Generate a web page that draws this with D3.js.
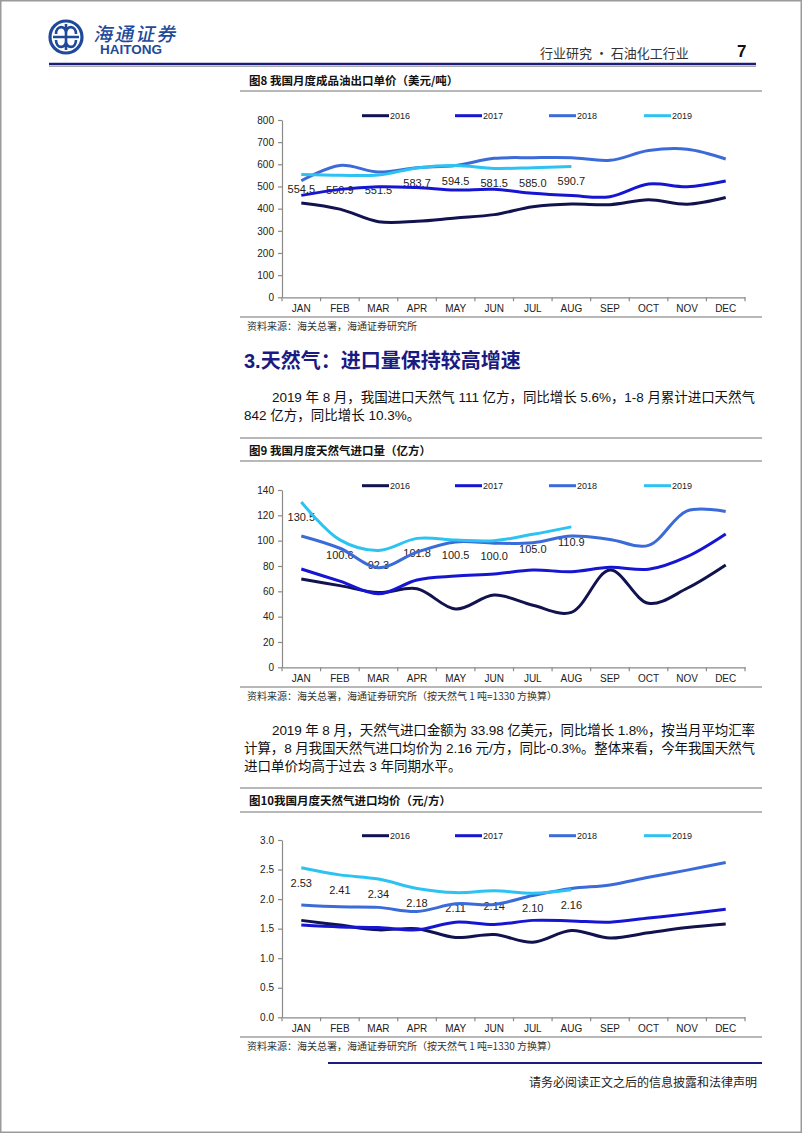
<!DOCTYPE html>
<html><head><meta charset="utf-8">
<script src="https://cdn.jsdelivr.net/npm/d3@7"></script>
<style>
html,body{margin:0;padding:0;background:#fff;}
svg{display:block;}
text{font-family:"Liberation Sans","Noto Sans CJK SC",sans-serif;}
</style></head>
<body>
<svg id="page" width="802" height="1133"></svg>
<script>
// ---------- data ----------
const months = ["JAN","FEB","MAR","APR","MAY","JUN","JUL","AUG","SEP","OCT","NOV","DEC"];
const years = ["2016","2017","2018","2019"];
const colors = ["#12124f","#1616d2","#3b6bd9","#2cc3f2"];

// Fig 8: refined oil export unit price (USD/t)
const price2016 = [426,398,341,343,358,373,409,421,418,440,420,450];
const price2017 = [460,487,499,495,484,487,469,459,454,511,499,525];
const price2018 = [526,595,565,585,595,627,630,630,618,662,668,624];
const price2019 = [554.5,550.9,551.5,583.7,594.5,581.5,585.0,590.7];
const priceTicks = [0,100,200,300,400,500,600,700,800];

// Fig 9: natural gas import volume (100M m3)
const vol2016 = [69.7,64.5,59,62,46,57,49,43.4,76.8,50.5,62.4,80.8];
const vol2017 = [77.6,68,58,69,72,73.7,76.8,75.5,79,77.4,87.4,105.3];
const vol2018 = [103.7,94,78.7,91,99,98,98.4,103.7,101,96.3,123.5,123];
const vol2019 = [130.5,100.6,92.3,101.8,100.5,100.0,105.0,110.9];
const volTicks = [0,20,40,60,80,100,120,140];

// Fig 10: natural gas import average price (CNY/m3)
const gas2016 = [1.64,1.56,1.48,1.50,1.35,1.40,1.27,1.47,1.34,1.43,1.52,1.58];
const gas2017 = [1.56,1.53,1.52,1.48,1.61,1.57,1.64,1.63,1.61,1.68,1.75,1.83];
const gas2018 = [1.90,1.87,1.86,1.79,1.92,1.91,2.06,2.18,2.24,2.37,2.49,2.62];
const gas2019 = [2.53,2.41,2.34,2.18,2.11,2.14,2.10,2.16];
const gasTicks = [0,0.5,1.0,1.5,2.0,2.5,3.0];

// ---------- page ----------
const svg = d3.select("#page");
const NAVY = "#1c1c7e";
const CJK = "'Noto Sans CJK SC',sans-serif";

svg.append("rect").attr("x",0.75).attr("y",0.75).attr("width",800.5).attr("height",1131.5)
  .attr("fill","none").attr("stroke","#9a9a9a").attr("stroke-width",1.5);

// logo
const logo = svg.append("g").attr("transform","translate(66,37)");
logo.append("circle").attr("r",16).attr("fill","none").attr("stroke","#1f4a9a").attr("stroke-width",3.2);
logo.append("path").attr("d","M-10,-3 C-10,-12 0,-12 0,-4 C0,-12 10,-12 10,-3 M-10,3 C-10,12 0,12 0,4 C0,12 10,12 10,3 M-13,0 L13,0 M0,-13 L0,13")
  .attr("fill","none").attr("stroke","#1f4a9a").attr("stroke-width",2.6);
svg.append("text").attr("x",95).attr("y",33).attr("dominant-baseline","central")
  .attr("transform","skewX(-12) translate(7,0)")
  .style("font-family",CJK).style("font-weight","500").style("font-size","19px")
  .attr("fill","#1f4a9a").attr("textLength",82).text("海通证券");
svg.append("text").attr("x",100).attr("y",49).attr("dominant-baseline","central")
  .style("font-weight","bold").style("font-size","13.5px").attr("fill","#1f4a9a").text("HAITONG");

svg.append("text").attr("x",540).attr("y",52).attr("dominant-baseline","central")
  .style("font-family",CJK).style("font-size","13px").attr("fill","#333").text("行业研究 · 石油化工行业");
svg.append("text").attr("x",737).attr("y",51).attr("dominant-baseline","central")
  .style("font-weight","bold").style("font-size","17px").attr("fill","#111").text("7");
svg.append("line").attr("x1",49).attr("x2",756).attr("y1",64).attr("y2",64).attr("stroke",NAVY).attr("stroke-width",2.6);
svg.append("line").attr("x1",49).attr("x2",756).attr("y1",66.5).attr("y2",66.5).attr("stroke","#aaa").attr("stroke-width",1);

function greyRule(y){
  svg.append("line").attr("x1",240).attr("x2",762).attr("y1",y).attr("y2",y).attr("stroke","#a0a0a0").attr("stroke-width",1.5);
}
function figTitle(txt,y){
  svg.append("text").attr("x",249).attr("y",y).attr("dominant-baseline","central")
    .style("font-family",CJK).style("font-weight","bold").style("font-size","11.5px").attr("fill","#111").text(txt);
}
function source(txt,y){
  svg.append("text").attr("x",247).attr("y",y).attr("dominant-baseline","central")
    .style("font-family",CJK).style("font-size","10px").attr("fill","#333").text(txt);
}
function para(lines){
  lines.forEach(l=>{
    const t = svg.append("text").attr("x",l.x).attr("y",l.y).attr("dominant-baseline","central")
      .style("font-size","13.5px").attr("fill","#111").text(l.t);
    if(l.w){ t.attr("textLength",l.w).attr("lengthAdjust","spacing"); }
  });
}

// ---------- chart ----------
function drawChart(cfg){
  const g = svg.append("g");
  const x = d3.scaleBand().domain(months).range([282,745]);
  const bw = x.bandwidth();
  const y = d3.scaleLinear().domain([0, d3.max(cfg.ticks)]).range([cfg.y0, cfg.yTop]);
  const cx = i => x(months[i]) + bw/2;

  // y axis
  const ya = g.append("g").attr("transform","translate(282,0)")
    .call(d3.axisLeft(y).tickValues(cfg.ticks).tickFormat(cfg.fmt).tickSize(4).tickSizeOuter(0).tickPadding(4));
  ya.select(".domain").attr("stroke","#8a8a8a").attr("stroke-width",1.2);
  ya.selectAll(".tick line").attr("stroke","#8a8a8a").attr("stroke-width",1.2);
  ya.selectAll(".tick text").style("font-size","10px").attr("fill","#222");

  // x axis
  const xa = g.append("g").attr("transform",`translate(0,${cfg.y0})`)
    .call(d3.axisBottom(x).tickSize(0).tickPadding(6).tickSizeOuter(0));
  xa.select(".domain").attr("stroke","#8a8a8a").attr("stroke-width",1.2);
  xa.selectAll(".tick text").style("font-size","10px").attr("fill","#222")
    .attr("dy",null).attr("y",cfg.xLabelY - cfg.y0).attr("dominant-baseline","central");
  const bounds = months.map(m=>x(m)).concat([x.range()[1]]);
  g.selectAll("line.bt").data(bounds).join("line").attr("class","bt")
    .attr("x1",d=>d).attr("x2",d=>d).attr("y1",cfg.y0).attr("y2",cfg.y0+4)
    .attr("stroke","#8a8a8a").attr("stroke-width",1.2);

  // legend
  const lx = [362,455,549,644];
  years.forEach((yr,k)=>{
    g.append("line").attr("x1",lx[k]).attr("x2",lx[k]+27).attr("y1",cfg.legendY).attr("y2",cfg.legendY)
      .attr("stroke",colors[k]).attr("stroke-width",3);
    g.append("text").attr("x",lx[k]+28).attr("y",cfg.legendY).attr("dominant-baseline","central")
      .style("font-size","9px").attr("fill","#222").text(yr);
  });

  // data labels (under the lines)
  const last = cfg.series[3];
  g.selectAll("text.dl").data(last).join("text").attr("class","dl")
    .attr("x",(d,i)=>cx(i)).attr("y",d=>y(d)+15).attr("text-anchor","middle").attr("dominant-baseline","central")
    .style("font-size","11px").attr("fill","#222").text(cfg.labelFmt);

  // lines
  const line = d3.line().x((d,i)=>cx(i)).y(d=>y(d)).curve(d3.curveCatmullRom.alpha(0.5));
  cfg.series.forEach((s,k)=>{
    g.append("path").datum(s).attr("d",line).attr("fill","none")
      .attr("stroke",colors[k]).attr("stroke-width",3).attr("stroke-linejoin","round").attr("stroke-linecap","butt");
  });
}

// Fig 8
figTitle("图8  我国月度成品油出口单价（美元/吨）",80);
greyRule(91);
drawChart({yTop:120,y0:297.3,ticks:priceTicks,fmt:d3.format("d"),labelFmt:d3.format(".1f"),
  legendY:115.7,xLabelY:308.3,series:[price2016,price2017,price2018,price2019]});
greyRule(317);
source("资料来源：海关总署，海通证券研究所",325);

// Section heading
svg.append("text").attr("x",244).attr("y",361).attr("dominant-baseline","central")
  .style("font-family","'Liberation Sans','Noto Sans CJK SC',sans-serif").style("font-weight","bold").style("font-size","20px")
  .attr("fill","#1a1a82").text("3.天然气：进口量保持较高增速");

para([
  {x:272,y:397,w:483,t:"2019 年 8 月，我国进口天然气 111 亿方，同比增长 5.6%，1-8 月累计进口天然气"},
  {x:244,y:415.5,t:"842 亿方，同比增长 10.3%。"}
]);

// Fig 9
greyRule(438);
figTitle("图9  我国月度天然气进口量（亿方）",450);
greyRule(461);
drawChart({yTop:490,y0:667.3,ticks:volTicks,fmt:d3.format("d"),labelFmt:d3.format(".1f"),
  legendY:485.7,xLabelY:678.3,series:[vol2016,vol2017,vol2018,vol2019]});
greyRule(687);
source("资料来源：海关总署，海通证券研究所（按天然气 1 吨=1330 方换算）",695);

para([
  {x:272,y:730,w:483,t:"2019 年 8 月，天然气进口金额为 33.98 亿美元，同比增长 1.8%，按当月平均汇率"},
  {x:244,y:748,w:511,t:"计算，8 月我国天然气进口均价为 2.16 元/方，同比-0.3%。整体来看，今年我国天然气"},
  {x:244,y:766,t:"进口单价均高于过去 3 年同期水平。"}
]);

// Fig 10
greyRule(788);
figTitle("图10我国月度天然气进口均价（元/方）",800);
greyRule(812);
drawChart({yTop:840,y0:1017.3,ticks:gasTicks,fmt:d3.format(".1f"),labelFmt:d3.format(".2f"),
  legendY:835.7,xLabelY:1028.3,series:[gas2016,gas2017,gas2018,gas2019]});
greyRule(1037);
source("资料来源：海关总署，海通证券研究所（按天然气 1 吨=1330 方换算）",1045);

// footer
svg.append("line").attr("x1",328).attr("x2",762).attr("y1",1063).attr("y2",1063).attr("stroke",NAVY).attr("stroke-width",2.2);
svg.append("text").attr("x",757).attr("y",1081).attr("text-anchor","end").attr("dominant-baseline","central")
  .style("font-family",CJK).style("font-size","12px").attr("fill","#222").text("请务必阅读正文之后的信息披露和法律声明");
</script>
</body></html>
